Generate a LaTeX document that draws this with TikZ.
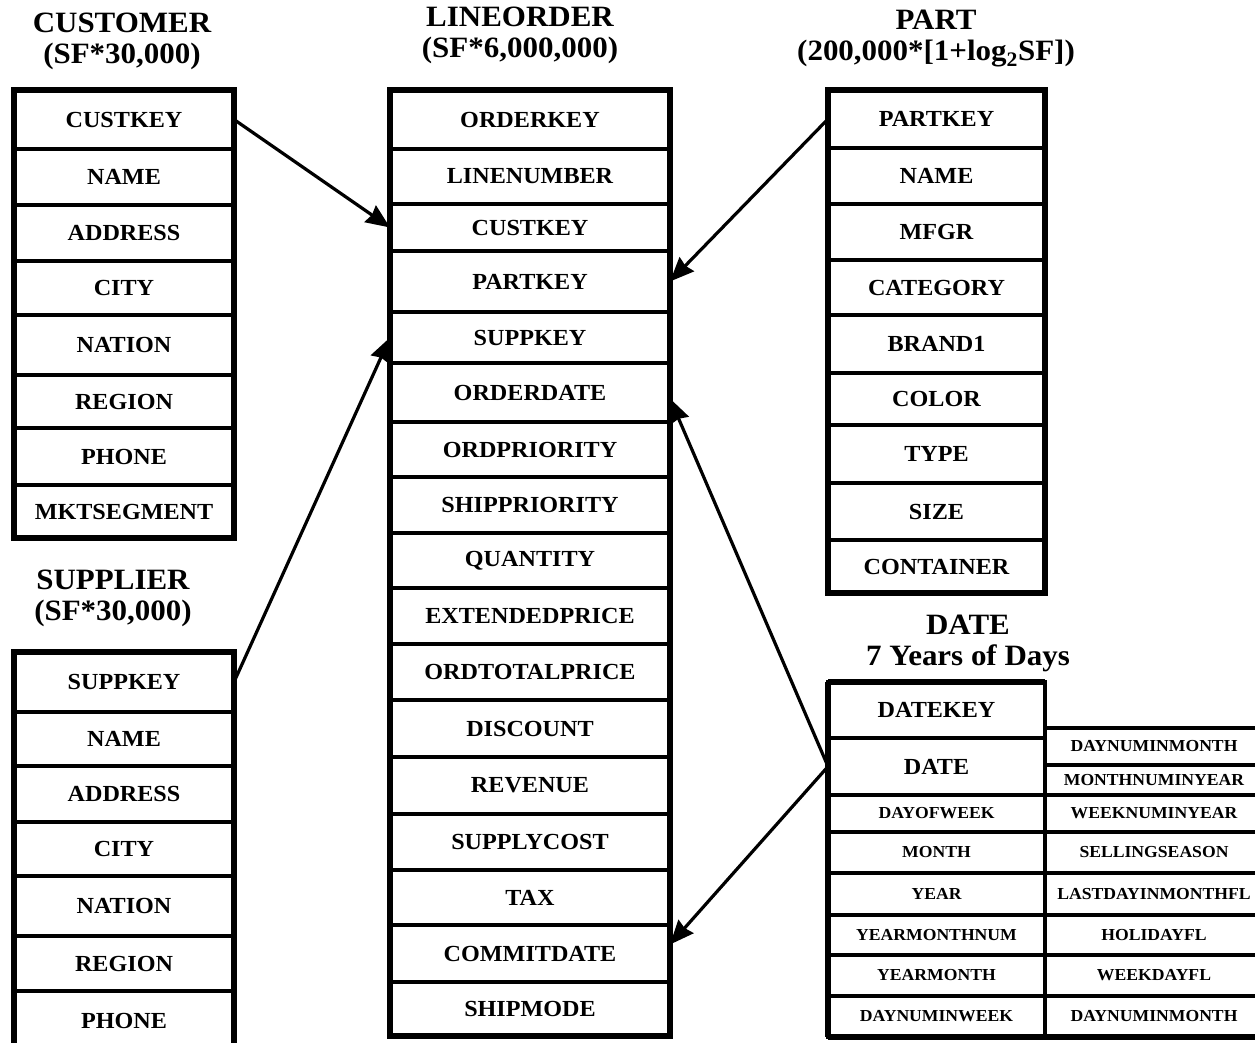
\documentclass[tikz,border=0pt]{standalone}
\usepackage{fontspec}
\setmainfont{Liberation Serif}[FakeStretch=1.05]
\usetikzlibrary{arrows.meta}

\newcommand\ssbfield{\fontsize{23}{26}\selectfont\bfseries}
\newcommand\ssbsmall{\fontsize{16.8}{19}\selectfont\bfseries}
\newcommand\ssbtitle{\fontsize{29.5}{31}\selectfont\bfseries}

% one column of a table: #1 extra style, #2 name prefix, #3 x centre,
% #4 width, #5 list of label/top/bottom
\newcommand\ssbcolumn[5]{%
  \foreach \lbl/\ya/\yb [count=\i] in {#5} {
    \pgfmathsetmacro\hh{\yb-\ya}
    \pgfmathsetmacro\mm{(\ya+\yb)/2}
    \node[field, #1, minimum width=#4pt, minimum height=\hh pt] (#2\i) at (#3,\mm) {\lbl};
  }}

\begin{document}
\begin{tikzpicture}[x=1pt,y=-1pt,
  field/.style={draw, line width=4.5pt, inner sep=0pt, outer sep=0pt, font=\ssbfield},
  small/.style={font=\ssbsmall},
  title/.style={align=center, font=\ssbtitle, inner sep=0pt},
  frame/.style={line width=6pt},
  link/.style={line width=3.2pt, -{Stealth[length=24pt,width=20pt,inset=2pt]}}]

\fill[white] (0,0) rectangle (1255,1042);
\useasboundingbox (0,0) rectangle (1255,1042);

% table headings
\node[title] (custT) at (122,41) {CUSTOMER\\(SF*30,000)};
\node[title] (lineT) at (520,35) {LINEORDER\\(SF*6,000,000)};
\node[title] (partT) at (936,39) {PART\\(200,000*[1+log\textsubscript{2}SF])};
\node[title] (suppT) at (113,598) {SUPPLIER\\(SF*30,000)};
\node[title] (dateT) at (968,643) {DATE\\7 Years of Days};

% CUSTOMER
\ssbcolumn{}{c}{124}{220}{CUSTKEY/90/149, NAME/149/205, ADDRESS/205/261,
  CITY/261/315, NATION/315/375, REGION/375/428, PHONE/428/485, MKTSEGMENT/485/538}
\draw[frame] (c1.north west) rectangle (c8.south east);

% SUPPLIER
\ssbcolumn{}{s}{124}{220}{SUPPKEY/652/712, NAME/712/766, ADDRESS/766/822,
  CITY/822/876, NATION/876/936, REGION/936/991, PHONE/991/1050}
\draw[frame] (s1.north west) rectangle (s7.south east);

% LINEORDER
\ssbcolumn{}{l}{530}{280}{ORDERKEY/90/149, LINENUMBER/149/204, CUSTKEY/204/251,
  PARTKEY/251/312, SUPPKEY/312/363, ORDERDATE/363/422, ORDPRIORITY/422/477,
  SHIPPRIORITY/477/533, QUANTITY/533/588, EXTENDEDPRICE/588/644,
  ORDTOTALPRICE/644/700, DISCOUNT/700/757, REVENUE/757/814, SUPPLYCOST/814/870,
  TAX/870/925, COMMITDATE/925/982, SHIPMODE/982/1036}
\draw[frame] (l1.north west) rectangle (l17.south east);

% PART
\ssbcolumn{}{p}{936.5}{217}{PARTKEY/90/148, NAME/148/204, MFGR/204/260,
  CATEGORY/260/315, BRAND1/315/373, COLOR/373/425, TYPE/425/483, SIZE/483/540,
  CONTAINER/540/593}
\draw[frame] (p1.north west) rectangle (p9.south east);

% DATE, left column
\ssbcolumn{}{d}{936.5}{217}{DATEKEY/682/738, DATE/738/795}
\ssbcolumn{small}{dd}{936.5}{217}{DAYOFWEEK/795/832, MONTH/832/873, YEAR/873/915,
  YEARMONTHNUM/915/955, YEARMONTH/955/996, DAYNUMINWEEK/996/1037}
% DATE, right column
\ssbcolumn{small}{e}{1154}{218}{DAYNUMINMONTH/728/765, MONTHNUMINYEAR/765/795,
  WEEKNUMINYEAR/795/832, SELLINGSEASON/832/873, LASTDAYINMONTHFL/873/915,
  HOLIDAYFL/915/955, WEEKDAYFL/955/996, DAYNUMINMONTH/996/1037}
\draw[frame] (d1.north west) -- (dd6.south west);
\draw[frame] (d1.north west) -- (d1.north east);
\draw[frame] (dd6.south west) -- (e8.south east);

% foreign keys
\draw[link] (c1.east) -- (l3.west);
\draw[link] (p1.west) -- (l4.east);
\draw[link] (s1.east) -- (l5.west);
\draw[link] (d2.west) -- ([yshift=-6pt]l6.east);
\draw[link] (d2.west) -- ([yshift=9pt]l16.east);
\end{tikzpicture}
\end{document}
